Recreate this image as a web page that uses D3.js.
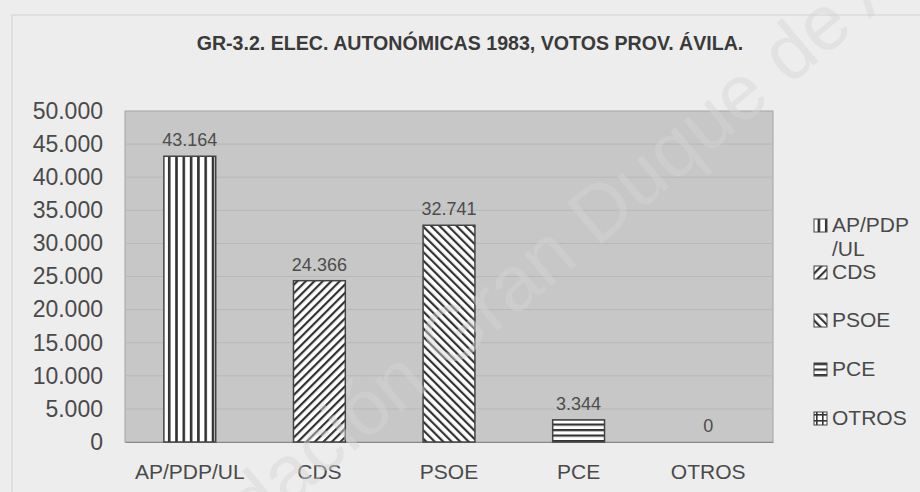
<!DOCTYPE html>
<html>
<head>
<meta charset="utf-8">
<script src="https://cdn.jsdelivr.net/npm/d3@7"></script>
<style>
  body { margin: 0; background: #ededed; }
  svg { display: block; font-family: Arial, "Liberation Sans", sans-serif; }
</style>
</head>
<body>
<div id="chart"></div>
<script>
// datos
var partidos = ["AP/PDP/UL", "CDS", "PSOE", "PCE", "OTROS"];
var votos = [43164, 24366, 32741, 3344, 0];
var yTicks = [0, 5000, 10000, 15000, 20000, 25000, 30000, 35000, 40000, 45000, 50000];
var leyenda = [["AP/PDP", "/UL"], ["CDS"], ["PSOE"], ["PCE"], ["OTROS"]];
var titulo = "GR-3.2. ELEC. AUTONÓMICAS 1983, VOTOS PROV. ÁVILA.";

var width = 920,
    height = 492;

var es = d3.formatLocale({ decimal: ",", thousands: ".", grouping: [3], currency: ["", "€"] });
var fmt = es.format(",d");

var svg = d3.select("#chart").append("svg")
    .attr("width", width)
    .attr("height", height);

// patrones de relleno
var defs = svg.append("defs");
var pats = ["p0", "p1", "p2", "p3", "p4"];

function pattern(id, w, h, tr) {
  var p = defs.append("pattern")
      .attr("id", id)
      .attr("patternUnits", "userSpaceOnUse")
      .attr("width", w)
      .attr("height", h);
  if (tr) p.attr("patternTransform", tr);
  p.append("rect").attr("width", w).attr("height", h).attr("fill", "#fff");
  return p;
}
pattern("p0", 7.3, 10).append("rect").attr("x", 0).attr("width", 2.6).attr("height", 10).attr("fill", "#333");
pattern("p1", 6, 10, "rotate(45)").append("rect").attr("width", 2.2).attr("height", 10).attr("fill", "#333");
pattern("p2", 6, 10, "rotate(-45)").append("rect").attr("width", 2.2).attr("height", 10).attr("fill", "#333");
pattern("p3", 10, 5.5).append("rect").attr("y", 0).attr("width", 10).attr("height", 2.2).attr("fill", "#333");
var g4 = pattern("p4", 6, 6);
g4.append("rect").attr("width", 6).attr("height", 1.6).attr("fill", "#333");
g4.append("rect").attr("width", 1.6).attr("height", 6).attr("fill", "#333");

// marco
svg.append("rect")
    .attr("x", 12).attr("y", 15)
    .attr("width", 930).attr("height", 500)
    .attr("fill", "none")
    .attr("stroke", "#d2d2d2");

svg.append("text")
    .attr("x", 470)
    .attr("y", 50)
    .attr("text-anchor", "middle")
    .attr("font-size", 19.6)
    .attr("font-weight", "bold")
    .attr("fill", "#3a3a3a")
    .text(titulo);

var plot = { left: 125, top: 111, right: 773, bottom: 442 };

var x = d3.scaleBand()
    .domain(partidos)
    .range([plot.left, plot.right])
    .paddingInner(0.6)
    .paddingOuter(0.3);

var y = d3.scaleLinear()
    .domain([0, 50000])
    .range([plot.bottom, plot.top]);

svg.append("rect")
    .attr("x", plot.left)
    .attr("y", plot.top)
    .attr("width", plot.right - plot.left)
    .attr("height", plot.bottom - plot.top)
    .attr("fill", "#c7c7c7")
    .attr("stroke", "#a3a3a3");

svg.append("g")
  .selectAll("line")
    .data(yTicks.slice(1, -1))
  .enter().append("line")
    .attr("x1", plot.left)
    .attr("x2", plot.right)
    .attr("y1", function(d) { return y(d); })
    .attr("y2", function(d) { return y(d); })
    .attr("stroke", "#b8b8b8");

// eje y
var yAxis = svg.append("g")
    .attr("transform", "translate(" + (plot.left - 22) + ",0)")
    .call(d3.axisLeft(y).tickValues(yTicks).tickFormat(fmt).tickSize(0).tickPadding(0));
yAxis.select(".domain").remove();
yAxis.selectAll("text")
    .attr("font-size", 23)
    .attr("font-family", "Arial, 'Liberation Sans', sans-serif")
    .attr("fill", "#4a4a4a");

// eje x
var xAxis = svg.append("g")
    .attr("transform", "translate(0," + plot.bottom + ")")
    .call(d3.axisBottom(x).tickSize(0).tickPadding(22));
xAxis.select(".domain").attr("stroke", "#8a8a8a");
xAxis.selectAll("text")
    .attr("font-size", 21)
    .attr("font-family", "Arial, 'Liberation Sans', sans-serif")
    .attr("fill", "#4a4a4a");

// barras
svg.append("g")
  .selectAll("rect")
    .data(votos)
  .enter().append("rect")
    .attr("x", function(d, i) { return x(partidos[i]); })
    .attr("y", function(d) { return y(d); })
    .attr("width", x.bandwidth())
    .attr("height", function(d) { return y(0) - y(d); })
    .attr("fill", function(d, i) { return "url(#" + pats[i] + ")"; })
    .attr("stroke", function(d) { return d > 0 ? "#444" : "none"; })
    .attr("stroke-width", 1.5);

svg.append("g")
  .selectAll("text")
    .data(votos)
  .enter().append("text")
    .attr("x", function(d, i) { return x(partidos[i]) + x.bandwidth() / 2; })
    .attr("y", function(d) { return y(d) - 10; })
    .attr("text-anchor", "middle")
    .attr("font-size", 18)
    .attr("fill", "#4d4d4d")
    .text(function(d) { return fmt(d); });

// leyenda
var ly = [225, 272, 320, 369, 418];
var leg = svg.append("g");
leyenda.forEach(function(lines, i) {
  leg.append("rect")
      .attr("x", 814)
      .attr("y", ly[i] - 6)
      .attr("width", 13)
      .attr("height", 13)
      .attr("fill", "url(#" + pats[i] + ")")
      .attr("stroke", "#444");
  lines.forEach(function(t, j) {
    leg.append("text")
        .attr("x", 832)
        .attr("y", ly[i] + 7 + j * 24)
        .attr("font-size", 21)
        .attr("fill", "#4a4a4a")
        .text(t);
  });
});

// marca de agua
svg.append("text")
    .attr("transform", "translate(570,270) rotate(-40)")
    .attr("text-anchor", "middle")
    .attr("font-size", 78)
    .attr("fill", "#d4d4d4")
    .attr("fill-opacity", 0.45)
    .text("Fundación Gran Duque de Alba");
</script>
</body>
</html>
